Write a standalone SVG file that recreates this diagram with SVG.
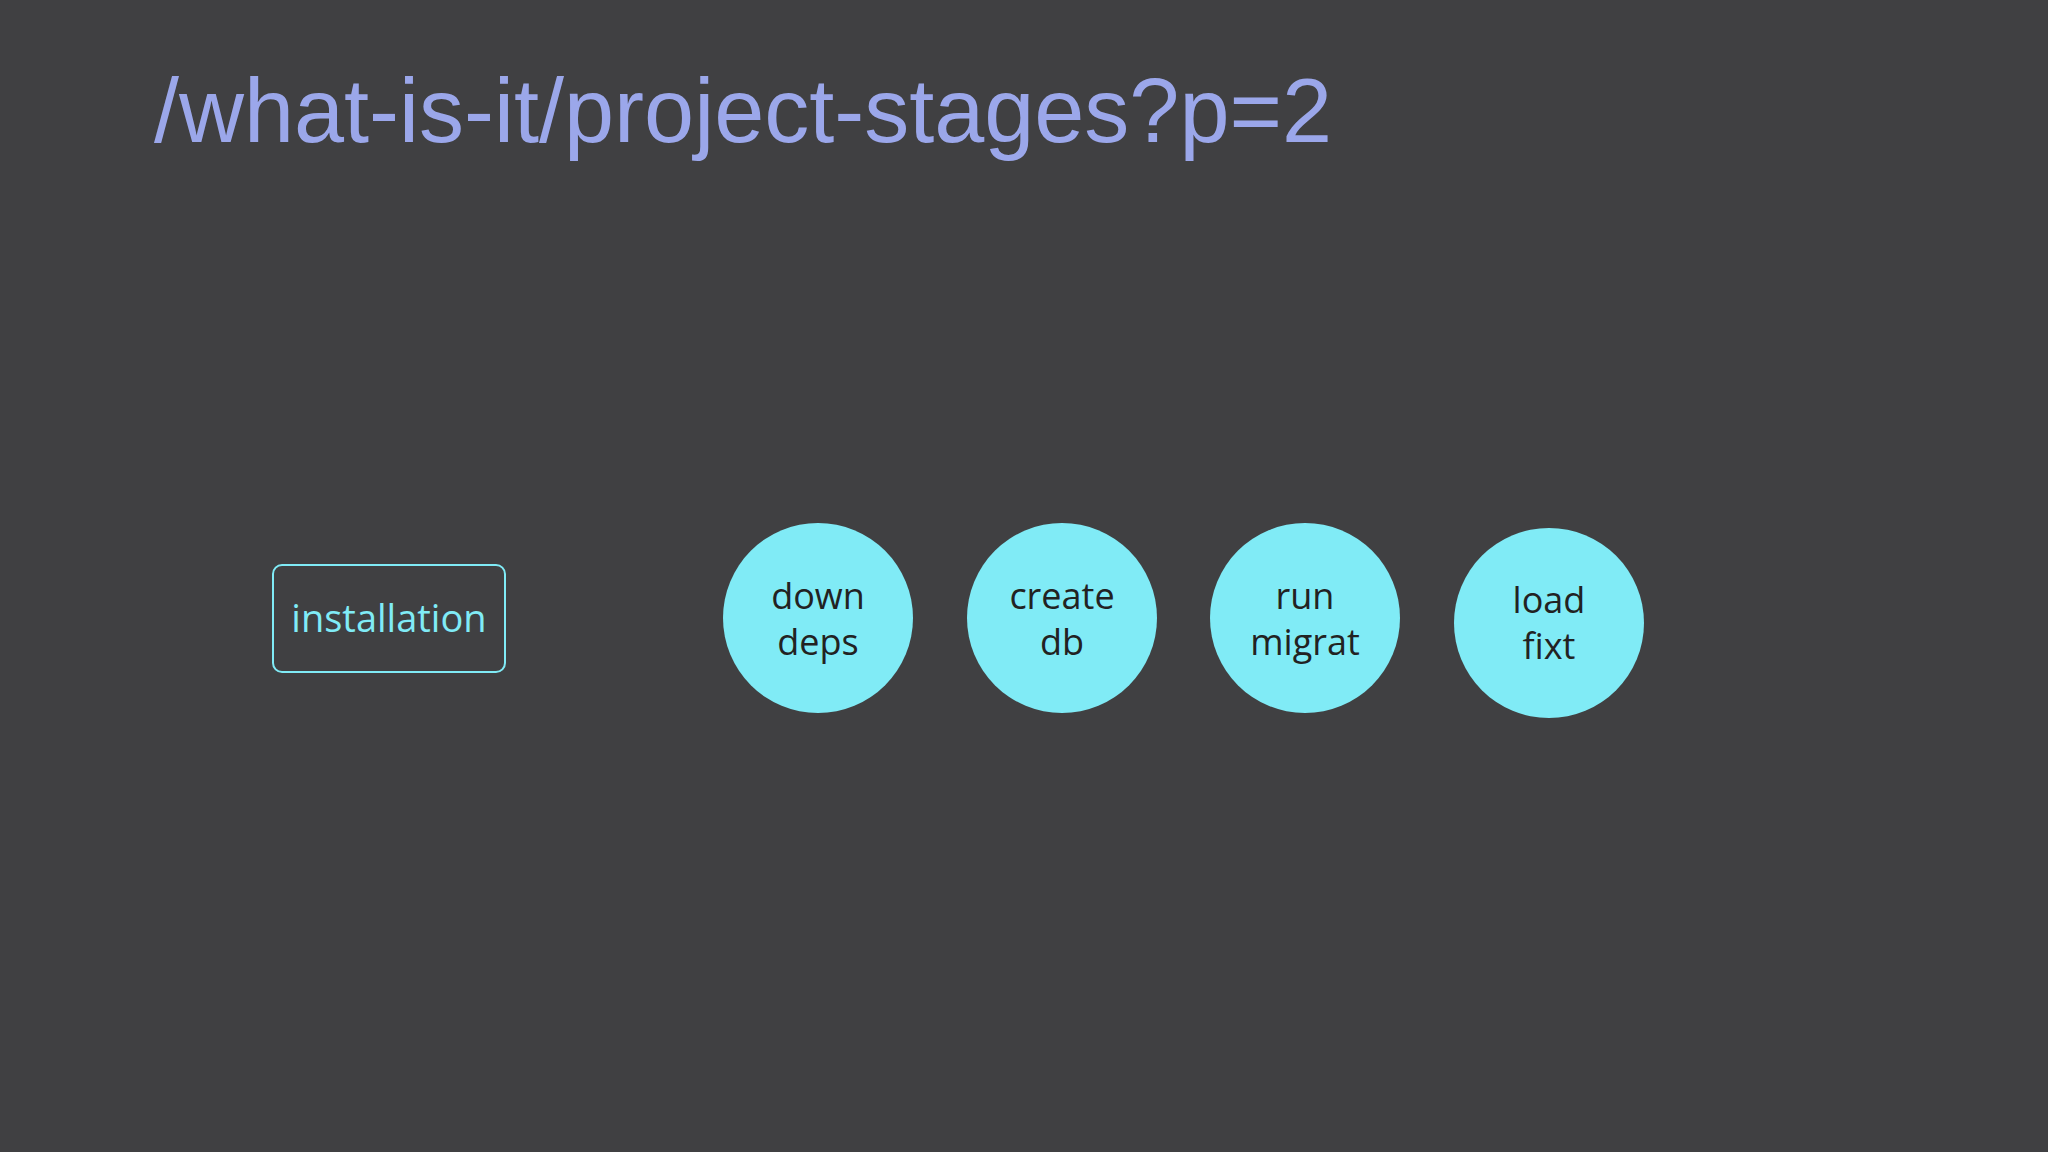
<svg xmlns="http://www.w3.org/2000/svg" width="2048" height="1152" viewBox="0 0 2048 1152">
<style>
.c{fill:#80ebf6}
.t{font-family:"Open Sans","Noto Sans",sans-serif;font-size:36px;fill:#222;text-anchor:middle}
</style>
<rect width="2048" height="1152" fill="#404042"/>
<text x="154" y="142" font-family="Liberation Sans,Arial,sans-serif" font-size="90" fill="#9ba7ea">/what-is-it/project-stages?p=2</text>
<g id="installation">
<rect x="273" y="565" width="232" height="107" rx="9" fill="none" stroke="#80ebf6" stroke-width="2"/>
<text x="389" y="632" font-family="Open Sans,Noto Sans,sans-serif" font-size="38" fill="#80ebf6" text-anchor="middle">installation</text>
</g>
<g id="connectors"></g>
<g id="down-deps"><circle class="c" cx="818" cy="618" r="95"/><text class="t" x="818" y="609">down</text><text class="t" x="818" y="655">deps</text></g>
<g id="create-db"><circle class="c" cx="1062" cy="618" r="95"/><text class="t" x="1062" y="609">create</text><text class="t" x="1062" y="655">db</text></g>
<g id="run-migrat"><circle class="c" cx="1305" cy="618" r="95"/><text class="t" x="1305" y="609">run</text><text class="t" x="1305" y="655">migrat</text></g>
<g id="load-fixt"><circle class="c" cx="1549" cy="623" r="95"/><text class="t" x="1549" y="613">load</text><text class="t" x="1549" y="659">fixt</text></g>
</svg>
